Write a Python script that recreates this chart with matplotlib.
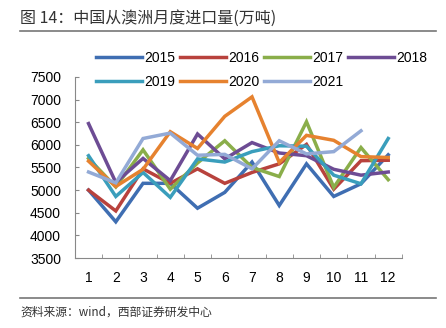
import numpy as np
import matplotlib
matplotlib.use('Agg')
import matplotlib.pyplot as plt
from matplotlib.ticker import FixedLocator

plt.rcParams['font.family'] = ['Liberation Sans', 'Noto Sans CJK SC', 'DejaVu Sans']

months = list(range(1, 13))
month_labels = [str(m) for m in months]
years = ['2015', '2016', '2017', '2018', '2019', '2020', '2021']

v2015 = [5000, 4300, 5150, 5150, 4600, 4950, 5620, 4660, 5580, 4860, 5140, 5780]
v2016 = [5000, 4540, 5470, 5150, 5470, 5150, 5390, 5580, 6010, 5020, 5650, 5660]
v2017 = [5700, 5070, 5890, 5020, 5600, 6090, 5500, 5300, 6510, 5060, 5940, 5230]
v2018 = [6470, 5170, 5700, 5210, 6240, 5690, 6050, 5820, 5760, 5460, 5330, 5400]
v2019 = [5760, 4860, 5390, 4840, 5690, 5620, 5850, 5980, 5970, 5330, 5140, 6140]
v2020 = [5640, 5080, 5460, 6290, 5920, 6630, 7060, 5610, 6210, 6100, 5740, 5720]
v2021 = [5400, 5160, 6140, 6260, 5770, 5790, 5470, 6090, 5800, 5850, 6310]

series = [v2015, v2016, v2017, v2018, v2019, v2020, v2021]
colors = ['#3F6EB2', '#B8423D', '#8AAE4A', '#6D4C94', '#3A9EBC', '#E6822F', '#93AAD6']

fig = plt.figure(figsize=(4.46, 3.28), dpi=100)
ax = fig.add_axes([0.168, 0.2134, 0.733, 0.552])

for name, vals, c in zip(years, series, colors):
    ax.plot(months[:len(vals)], vals, color=c, lw=2.5, label=name, solid_joinstyle='miter')

ax.set_xlim(0.5, 12.5)
ax.set_ylim(3500, 7500)
ax.set_yticks(np.arange(3500, 7501, 500))
ax.set_xticks(months)
ax.set_xticklabels(month_labels)
ax.xaxis.set_minor_locator(FixedLocator(np.arange(1.5, 12.6, 1)))
ax.tick_params(axis='x', which='major', length=0, pad=9, labelsize=10)
ax.tick_params(axis='x', which='minor', direction='in', length=3, color='#888888')
ax.tick_params(axis='y', direction='in', length=3, color='#888888', pad=10, labelsize=10)
for s in ['top', 'right']:
    ax.spines[s].set_visible(False)
for s in ['left', 'bottom']:
    ax.spines[s].set_color('#888888')
    ax.spines[s].set_linewidth(0.8)

# legend fills column by column, so reorder to read row by row
handles, labels = ax.get_legend_handles_labels()
order = [0, 4, 1, 5, 2, 6, 3]
leg = fig.legend([handles[i] for i in order], [labels[i] for i in order], ncol=4,
                 loc='upper left', bbox_to_anchor=(0.203, 0.862),
                 frameon=False, fontsize=10, handlelength=3.3, handletextpad=0.2,
                 columnspacing=0.3, labelspacing=0.75, borderaxespad=0)

fig.text(0.045, 0.945, '图 14：中国从澳洲月度进口量(万吨)', fontsize=11.5, color='#333333',
         family=['Noto Sans CJK SC', 'DejaVu Sans'], va='center')
fig.add_artist(plt.Line2D([0.045, 0.978], [0.906, 0.906], color='#777777', lw=1.2))
fig.add_artist(plt.Line2D([0.045, 0.978], [0.092, 0.092], color='#777777', lw=1.2))
fig.text(0.045, 0.048, '资料来源：wind，西部证券研发中心', fontsize=8.5, color='#333333',
         family=['Noto Sans CJK SC', 'DejaVu Sans'], va='center')

fig.savefig('out.png', dpi=100)
